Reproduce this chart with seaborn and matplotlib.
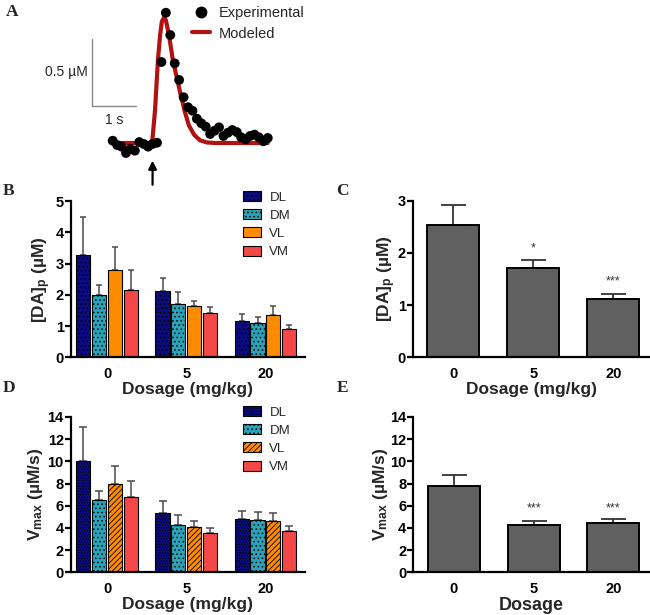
import numpy as np
import pandas as pd
import matplotlib
matplotlib.use("Agg")
import matplotlib.pyplot as plt
import seaborn as sns
from matplotlib.lines import Line2D
from matplotlib.patches import Patch

# ---------------- data ----------------
# Panel A: single transient
exp_time = [0.0, 0.1, 0.2, 0.3, 0.4, 0.5, 0.6, 0.7, 0.8, 0.9, 1.0, 1.1,
            1.2, 1.3, 1.4, 1.5, 1.6, 1.7, 1.8, 1.9, 2.0, 2.1, 2.2, 2.3,
            2.4, 2.5, 2.6, 2.7, 2.8, 2.9, 3.0, 3.1, 3.2, 3.3, 3.4, 3.5]
exp_conc = [0.017, -0.015, -0.027, -0.074, -0.044, -0.057, 0.007, -0.007,
            -0.027, -0.007, 0.002, 0.600, 0.965, 0.800, 0.590, 0.467, 0.339,
            0.265, 0.239, 0.180, 0.146, 0.121, 0.067, 0.091, 0.116, 0.052,
            0.076, 0.096, 0.081, 0.042, 0.027, 0.052, 0.062, 0.042, 0.013, 0.037]
model_time = [0.0, 0.89, 0.955, 1.02, 1.07, 1.11, 1.16, 1.20, 1.27, 1.36,
              1.45, 1.54, 1.63, 1.72, 1.84, 1.97, 2.13, 2.31, 3.5]
model_conc = [0.0, 0.0, 0.24, 0.61, 0.80, 0.90, 0.93, 0.91, 0.80, 0.61,
              0.48, 0.35, 0.23, 0.13, 0.06, 0.02, 0.004, 0.0, 0.0]

dosages = ["0", "5", "20"]
regions = ["DL", "DM", "VL", "VM"]

# Panel B: [DA]p by region (mean, SEM)
dap_DL = [3.26, 2.13, 1.16]
dap_DM = [2.00, 1.70, 1.11]
dap_VL = [2.78, 1.65, 1.35]
dap_VM = [2.14, 1.42, 0.90]
dap_DL_err = [1.22, 0.40, 0.21]
dap_DM_err = [0.30, 0.38, 0.18]
dap_VL_err = [0.76, 0.14, 0.30]
dap_VM_err = [0.64, 0.18, 0.12]

# Panel C: [DA]p pooled
dap_all = [2.53, 1.71, 1.12]
dap_all_err = [0.39, 0.15, 0.10]
dap_stars = ["", "*", "***"]
dap_star_y = [0, 1.98, 1.34]

# Panel D: Vmax by region
vmax_DL = [10.0, 5.32, 4.78]
vmax_DM = [6.52, 4.24, 4.69]
vmax_VL = [7.93, 4.12, 4.60]
vmax_VM = [6.82, 3.51, 3.72]
vmax_DL_err = [3.07, 1.08, 0.78]
vmax_DM_err = [0.81, 0.93, 0.75]
vmax_VL_err = [1.65, 0.54, 0.75]
vmax_VM_err = [1.38, 0.46, 0.43]

# Panel E: Vmax pooled
vmax_all = [7.81, 4.27, 4.42]
vmax_all_err = [0.93, 0.39, 0.36]
vmax_stars = ["", "***", "***"]
vmax_star_y = [0, 5.2, 5.2]

region_colors = {"DL": "#0c0c80", "DM": "#2aa3b8", "VL": "#ff8c00", "VM": "#f44848"}
hatch_B = {"DL": "....", "DM": "....", "VL": "", "VM": ""}
hatch_D = {"DL": "......", "DM": "....", "VL": "//////", "VM": ""}

# ---------------- style ----------------
sns.set_theme(style="ticks")
plt.rcParams["font.family"] = ["Liberation Sans", "DejaVu Sans"]
plt.rcParams["font.weight"] = "bold"
plt.rcParams["mathtext.fontset"] = "custom"
plt.rcParams["mathtext.rm"] = "Liberation Sans:bold"
plt.rcParams["mathtext.bf"] = "Liberation Sans:bold"
plt.rcParams["mathtext.it"] = "Liberation Sans:bold"
plt.rcParams["hatch.linewidth"] = 0.6

W, H = 650, 615
fig = plt.figure(figsize=(W / 100, H / 100), dpi=100)


def px_axes(x0, y0, x1, y1):
    return fig.add_axes([x0 / W, 1 - y1 / H, (x1 - x0) / W, (y1 - y0) / H])


def style_bar_axes(ax, ylim, yticks):
    ax.set_ylim(*ylim)
    ax.set_yticks(yticks)
    for s in ["top", "right"]:
        ax.spines[s].set_visible(False)
    for s in ["left", "bottom"]:
        ax.spines[s].set_linewidth(1.6)
        ax.spines[s].set_color("black")
    ax.tick_params(axis="y", length=4, width=1.6, labelsize=10.5, pad=1,
                   colors="black")
    ax.tick_params(axis="x", length=0, labelsize=10.5, pad=7, colors="black")
    for lab in ax.get_xticklabels() + ax.get_yticklabels():
        lab.set_fontweight("bold")


# ---------------- Panel A ----------------
axA = px_axes(80, 0, 310, 195)
t0px, tpx = 112.7, 44.3
c0px, cpx = 143.0, 135.0
axA.set_xlim((80 - t0px) / tpx, (310 - t0px) / tpx)
axA.set_ylim((c0px - 195) / cpx, c0px / cpx)
axA.axis("off")
sns.lineplot(x=model_time, y=model_conc, color="#b01212", lw=3.0, ax=axA,
             zorder=2, estimator=None, sort=False)
sns.scatterplot(x=exp_time, y=exp_conc, color="black", s=50, ax=axA,
                edgecolor="none", zorder=3)
# scale bar
sb_t, sb_c = -0.467, 0.274
axA.plot([sb_t, sb_t], [sb_c, sb_c + 0.5], color="#8a8a8a", lw=1.0)
axA.plot([sb_t, sb_t + 1.0], [sb_c, sb_c], color="#8a8a8a", lw=1.0)
axA.text(sb_t - 0.1, sb_c + 0.25, "0.5 µM", ha="right", va="center",
         fontsize=10, fontweight="normal")
axA.text(sb_t + 0.5, sb_c - 0.05, "1 s", ha="center", va="top",
         fontsize=10, fontweight="normal")
axA.annotate("", xy=(0.90, -0.11), xytext=(0.90, -0.33),
             arrowprops=dict(arrowstyle="-|>", color="black", lw=1.6,
                             mutation_scale=12))
legA = axA.legend(handles=[Line2D([], [], marker="o", color="black", ls="",
                                  markersize=7.5),
                           Line2D([], [], color="#b01212", lw=3.0)],
                  labels=["Experimental", "Modeled"], frameon=False,
                  loc="upper left", bbox_to_anchor=(192 / W, 1 - 6 / H),
                  bbox_transform=fig.transFigure, fontsize=10.5,
                  handlelength=1.2, handletextpad=0.6, labelspacing=0.45,
                  borderpad=0, borderaxespad=0)
for t in legA.get_texts():
    t.set_fontweight("normal")


# ---------------- grouped bar helper ----------------
def grouped(ax, vals, errs, hatches, capsize):
    rows = []
    for r in regions:
        for d, v in zip(dosages, vals[r]):
            rows.append({"Dosage": d, "Region": r, "value": v})
    df = pd.DataFrame(rows)
    sns.barplot(data=df, x="Dosage", y="value", hue="Region", order=dosages,
                hue_order=regions, palette=region_colors, saturation=1,
                edgecolor="black", linewidth=0.8, gap=0.1, errorbar=None,
                legend=False, ax=ax, zorder=2)
    for r, cont in zip(regions, ax.containers):
        for bar, e in zip(cont, errs[r]):
            bar.set_hatch(hatches[r])
            xc = bar.get_x() + bar.get_width() / 2
            top = bar.get_height()
            ax.errorbar([xc], [top], yerr=[[0], [e]], fmt="none",
                        ecolor="#4a4a4a", elinewidth=1.1, capsize=capsize,
                        capthick=1.1, zorder=1)
    ax.set_xlim(-0.46, 2.5)
    handles = [Patch(facecolor=region_colors[r], edgecolor="black",
                     hatch=hatches[r], linewidth=0.8) for r in regions]
    return handles


def pooled(ax, vals, errs, stars, star_y, capsize):
    df = pd.DataFrame({"Dosage": dosages, "value": vals})
    sns.barplot(data=df, x="Dosage", y="value", order=dosages, color="#606060",
                saturation=1, edgecolor="black", linewidth=1.4, width=0.65,
                errorbar=None, ax=ax, zorder=2)
    for bar, e, s, sy in zip(ax.containers[0], errs, stars, star_y):
        xc = bar.get_x() + bar.get_width() / 2
        top = bar.get_height()
        ax.errorbar([xc], [top], yerr=[[0], [e]], fmt="none", ecolor="#333333",
                    elinewidth=1.3, capsize=capsize, capthick=1.3, zorder=1)
        if s:
            ax.text(xc, sy, s, ha="center", va="bottom", fontsize=9,
                    fontweight="normal", color="#333333")
    ax.set_xlim(-0.51, 2.46)


def legend_regions(ax, handles, top_px):
    leg = ax.legend(handles=handles, labels=regions, frameon=False,
                    loc="upper left", bbox_to_anchor=(243 / W, 1 - top_px / H),
                    bbox_transform=fig.transFigure, fontsize=9.5,
                    handlelength=1.4, handleheight=0.8, handletextpad=0.6,
                    labelspacing=0.42, borderpad=0, borderaxespad=0)
    for t in leg.get_texts():
        t.set_fontweight("normal")


# ---------------- Panel B ----------------
axB = px_axes(70.7, 201, 305, 357.3)
hB = grouped(axB, {"DL": dap_DL, "DM": dap_DM, "VL": dap_VL, "VM": dap_VM},
             {"DL": dap_DL_err, "DM": dap_DM_err, "VL": dap_VL_err,
              "VM": dap_VM_err}, hatch_B, 2)
style_bar_axes(axB, (0, 5), range(0, 6))
axB.set_xlabel("Dosage (mg/kg)", fontsize=12.5, fontweight="bold", labelpad=1)
axB.set_ylabel("[DA]$_\\mathrm{p}$ (µM)", fontsize=12.5, fontweight="bold",
               labelpad=2)
legend_regions(axB, hB, 191)

# ---------------- Panel C ----------------
axC = px_axes(412.7, 200.7, 650, 357.3)
pooled(axC, dap_all, dap_all_err, dap_stars, dap_star_y, 9)
style_bar_axes(axC, (0, 3), range(0, 4))
axC.set_xlabel("Dosage (mg/kg)", fontsize=12.5, fontweight="bold", labelpad=1)
axC.set_ylabel("[DA]$_\\mathrm{p}$ (µM)", fontsize=12.5, fontweight="bold",
               labelpad=0)

# ---------------- Panel D ----------------
axD = px_axes(70.7, 417, 305, 572.3)
hD = grouped(axD, {"DL": vmax_DL, "DM": vmax_DM, "VL": vmax_VL, "VM": vmax_VM},
             {"DL": vmax_DL_err, "DM": vmax_DM_err, "VL": vmax_VL_err,
              "VM": vmax_VM_err}, hatch_D, 2.7)
style_bar_axes(axD, (0, 14), range(0, 15, 2))
axD.set_xlabel("Dosage (mg/kg)", fontsize=12.5, fontweight="bold", labelpad=1)
axD.set_ylabel("V$_\\mathrm{max}$ (µM/s)", fontsize=12.5, fontweight="bold",
               labelpad=2)
legend_regions(axD, hD, 406)

# ---------------- Panel E ----------------
axE = px_axes(413.3, 417, 650, 572.3)
pooled(axE, vmax_all, vmax_all_err, vmax_stars, vmax_star_y, 9)
style_bar_axes(axE, (0, 14), range(0, 15, 2))
axE.set_xlabel("Dosage", fontsize=13, fontweight="bold", labelpad=1)
axE.set_ylabel("V$_\\mathrm{max}$ (µM/s)", fontsize=12.5, fontweight="bold",
               labelpad=0)

# ---------------- panel letters ----------------
for letter, (x, y) in {"A": (6, 4), "B": (3, 183), "C": (336, 183),
                       "D": (3, 380), "E": (337, 380)}.items():
    fig.text(x / W, 1 - y / H, letter, ha="left", va="top", fontsize=12.5,
             fontweight="bold", family=["Liberation Serif", "DejaVu Serif"])

fig.savefig("out.png", dpi=100)
